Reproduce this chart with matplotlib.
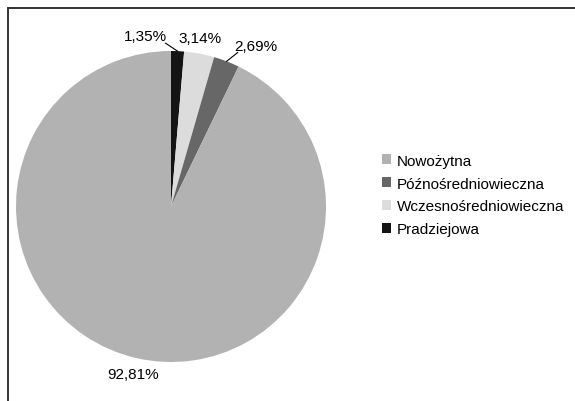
import matplotlib
matplotlib.use("Agg")
import matplotlib.pyplot as plt
import numpy as np
from matplotlib.lines import Line2D

plt.rcParams['font.family'] = ['Liberation Sans', 'DejaVu Sans']

# Data (clockwise from 12 o'clock)
categories = ["Pradziejowa", "Wczesnośredniowieczna", "Późnośredniowieczna", "Nowożytna"]
values = [1.35, 3.14, 2.69, 92.81]
labels_txt = ["1,35%", "3,14%", "2,69%", "92,81%"]
colors = ["#141414", "#dcdcdc", "#676767", "#b2b2b2"]

fig = plt.figure(figsize=(5.75, 4.02), dpi=100)
ax = fig.add_axes([16/575, (402-363)/402, 310/575, 311/402])

wedges, _ = ax.pie(values, colors=colors, startangle=90, counterclock=False,
                   wedgeprops=dict(linewidth=0), radius=1.0)
ax.set_xlim(-1, 1)
ax.set_ylim(-1, 1)
ax.set_aspect('auto')
ax.axis('off')

# label placements (text position, leader line end or None)
text_pos = [(-0.165, 1.095), (0.187, 1.082), (0.548, 1.03), (-0.242, -1.074)]
leader = [(-0.035, 1.05), None, (0.43, 0.99), None]

for w, t, tp, ld in zip(wedges, labels_txt, text_pos, leader):
    mid = np.deg2rad((w.theta1 + w.theta2) / 2)
    ex, ey = np.cos(mid), np.sin(mid)
    ax.text(tp[0], tp[1], t, ha='center', va='center', fontsize=11, color='#000000')
    if ld is not None:
        ax.plot([ex, ld[0]], [ey, ld[1]], color='#000000', lw=0.8, clip_on=False)

# legend (reverse order)
handles = [wedges[i] for i in [3, 2, 1, 0]]
leg_labels = [categories[i] for i in [3, 2, 1, 0]]
fig.legend(handles, leg_labels, loc='center left', bbox_to_anchor=(382/575, 1 - 196/402),
           frameon=False, fontsize=11, handlelength=0.6, handleheight=0.6,
           handletextpad=0.35, labelspacing=0.58, borderpad=0, borderaxespad=0)

# frame lines
fig.add_artist(Line2D([7.5/575, 1.0], [1 - 8.5/402, 1 - 8.5/402], transform=fig.transFigure,
                      color='#333333', lw=1.4))
fig.add_artist(Line2D([7.5/575, 7.5/575], [0, 1 - 8.5/402], transform=fig.transFigure,
                      color='#333333', lw=1.4))

fig.savefig("out.png", dpi=100)
